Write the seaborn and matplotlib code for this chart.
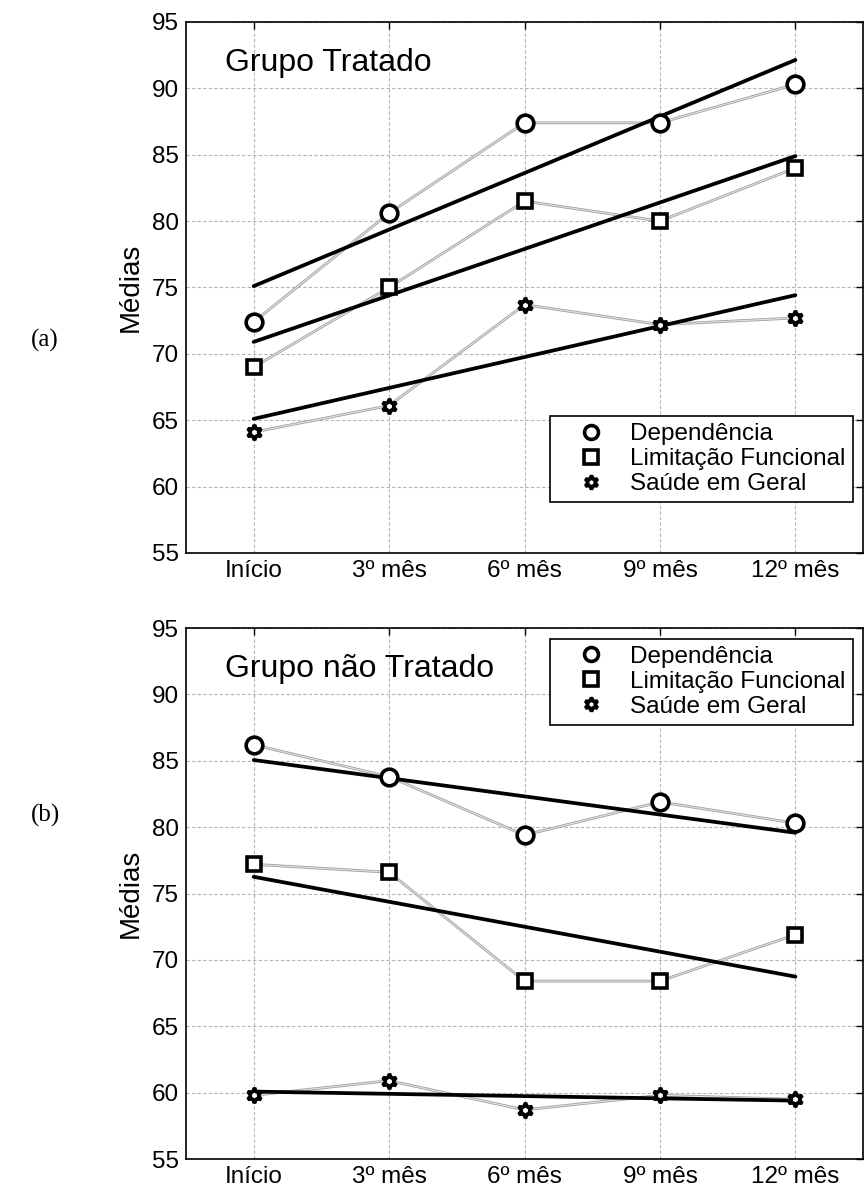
import numpy as np
import pandas as pd
import seaborn as sns
import matplotlib
matplotlib.use("Agg")
import matplotlib.pyplot as plt
import matplotlib.patheffects as pe
from matplotlib.lines import Line2D

# Time points and series means
periodos = ["Início", "3º mês", "6º mês", "9º mês", "12º mês"]
series = ["Dependência", "Limitação Funcional", "Saúde em Geral"]

tratado_dependencia = [72.4, 80.6, 87.4, 87.4, 90.3]
tratado_limitacao = [69.0, 75.0, 81.5, 80.0, 84.0]
tratado_saude = [64.1, 66.1, 73.7, 72.2, 72.7]

nao_tratado_dependencia = [86.2, 83.8, 79.4, 81.9, 80.3]
nao_tratado_limitacao = [77.2, 76.6, 68.4, 68.4, 71.9]
nao_tratado_saude = [59.8, 60.9, 58.7, 59.8, 59.5]

yticks = [55, 60, 65, 70, 75, 80, 85, 90, 95]

sns.set_theme(style="white")
plt.rcParams["font.family"] = ["Liberation Sans", "DejaVu Sans"]
plt.rcParams["text.color"] = "black"
plt.rcParams["axes.labelcolor"] = "black"
plt.rcParams["xtick.color"] = "black"
plt.rcParams["ytick.color"] = "black"

markers = {"Dependência": "o", "Limitação Funcional": "s", "Saúde em Geral": (6, 1, 0)}
msizes = {"Dependência": 12, "Limitação Funcional": 10, "Saúde em Geral": 11}

fig = plt.figure(figsize=(8.67, 11.94), dpi=100)
ax_a = fig.add_axes([0.2145, 0.5369, 0.781, 0.4447])
ax_b = fig.add_axes([0.2145, 0.0293, 0.781, 0.4447])


def draw_panel(ax, valores, titulo, legend_loc, legend_anchor):
    x = np.arange(len(periodos))
    for nome in series:
        df = pd.DataFrame({"t": x, "media": valores[nome]})
        # gray connecting line between the observed means
        ax.plot(df["t"], df["media"], color="#e2e2e2", lw=0.8, zorder=2,
                path_effects=[pe.Stroke(linewidth=2.0, foreground="#a0a0a0"), pe.Normal()])
        # linear trend
        sns.regplot(data=df, x="t", y="media", ax=ax, scatter=False, ci=None,
                    line_kws=dict(color="black", lw=2.7, zorder=3))
        ax.plot(df["t"], df["media"], linestyle="none", marker=markers[nome],
                markersize=msizes[nome], markerfacecolor="white",
                markeredgecolor="black", markeredgewidth=2.6, zorder=4)

    ax.set_xlim(-0.5, 4.5)
    ax.set_ylim(55, 95)
    ax.set_xticks(x)
    ax.set_xticklabels(periodos)
    ax.set_yticks(yticks)
    ax.set_xlabel("")
    ax.set_ylabel("Médias", fontsize=20, labelpad=6)
    ax.grid(True, color="#b5b5b5", lw=0.8, linestyle=(0, (3, 2)))
    ax.tick_params(axis="both", labelsize=17.5, direction="in", length=5,
                   top=True, right=True, width=1, color="black", pad=5)
    for s in ax.spines.values():
        s.set_color("black")
        s.set_linewidth(1.2)
    ax.text(0.058, 0.908, titulo, transform=ax.transAxes, fontsize=23,
            ha="left", va="baseline")

    handles = [Line2D([], [], linestyle="none", marker=markers[n], markersize=10,
                      markerfacecolor="white", markeredgecolor="black",
                      markeredgewidth=2.6) for n in series]
    leg = ax.legend(handles, series, loc=legend_loc, bbox_to_anchor=legend_anchor,
                    fontsize=17.5, frameon=True, fancybox=False, framealpha=1,
                    edgecolor="black", borderpad=0.3, labelspacing=0.12,
                    handletextpad=0.2, handlelength=2.8, borderaxespad=0.0)
    leg.get_frame().set_linewidth(1.2)


draw_panel(ax_a,
           {"Dependência": tratado_dependencia,
            "Limitação Funcional": tratado_limitacao,
            "Saúde em Geral": tratado_saude},
           "Grupo Tratado", "lower right", (0.985, 0.095))
draw_panel(ax_b,
           {"Dependência": nao_tratado_dependencia,
            "Limitação Funcional": nao_tratado_limitacao,
            "Saúde em Geral": nao_tratado_saude},
           "Grupo não Tratado", "upper right", (0.985, 0.98))

fig.text(0.052, 1 - 340 / 1194, "(a)", fontsize=18, family="Liberation Serif",
         ha="center", va="center")
fig.text(0.052, 1 - 815 / 1194, "(b)", fontsize=18, family="Liberation Serif",
         ha="center", va="center")

fig.savefig("out.png", dpi=100, facecolor="white")
